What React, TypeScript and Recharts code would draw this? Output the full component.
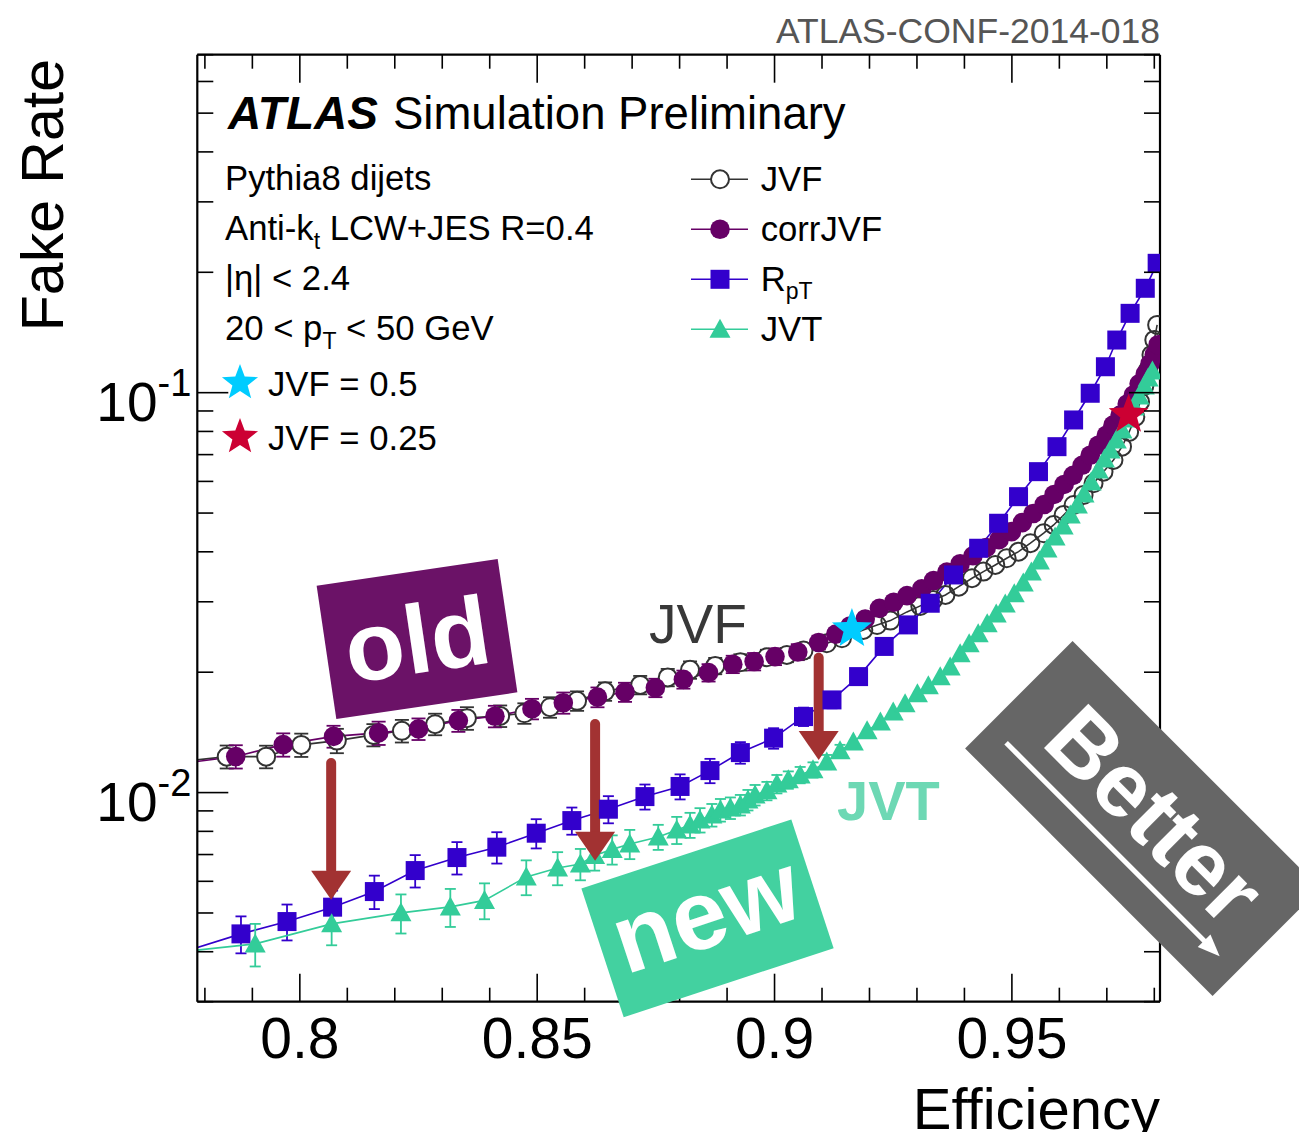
import React from "react";
import { ComposedChart, Line, XAxis, YAxis, ErrorBar, ReferenceLine, ReferenceDot } from "recharts";

const FONT = "'Liberation Sans', Arial, Helvetica, sans-serif";
const W = 1299;
const H = 1124;

// axes
const X_DOMAIN = [0.7784, 0.9812];
const Y_DOMAIN = [0.003, 0.7];
const X_TICKS = [0.78, 0.79, 0.8, 0.81, 0.82, 0.83, 0.84, 0.85, 0.86, 0.87, 0.88, 0.89, 0.9, 0.91, 0.92, 0.93, 0.94, 0.95, 0.96, 0.97, 0.98];
const X_MAJOR = [0.8, 0.85, 0.9, 0.95];
const Y_TICKS = [
  0.003, 0.004, 0.005, 0.006, 0.007, 0.008, 0.009, 0.01, 0.02, 0.03, 0.04, 0.05, 0.06, 0.07, 0.08, 0.09,
  0.1, 0.2, 0.3, 0.4, 0.5, 0.6, 0.7,
];
const Y_MAJOR = [0.01, 0.1];

// JVF (open circles)
const JVF_X = [
  0.7763, 0.7846, 0.7929, 0.8003, 0.8078, 0.8155, 0.8215, 0.8285, 0.8352, 0.8422, 0.8473, 0.8527, 0.8584, 0.8643,
  0.8717, 0.8775, 0.8822, 0.8875, 0.8928, 0.8984, 0.9026, 0.9061, 0.911, 0.9142, 0.9187, 0.9216, 0.9244, 0.9279,
  0.9307, 0.9334, 0.936, 0.9388, 0.9416, 0.944, 0.9465, 0.9489, 0.9514, 0.9539, 0.9567, 0.9588, 0.9609, 0.963,
  0.9651, 0.9672, 0.9693, 0.9714, 0.9732, 0.9747, 0.976, 0.977, 0.9779, 0.9787, 0.9794, 0.98, 0.9806,
];
const JVF_Y = [
  0.012, 0.0123, 0.0123, 0.01316, 0.01349, 0.01394, 0.01427, 0.01483, 0.01535, 0.01555, 0.01579, 0.01635, 0.01696,
  0.01791, 0.01859, 0.01941, 0.02027, 0.02074, 0.02118, 0.0218, 0.02209, 0.02265, 0.02363, 0.02432, 0.02551, 0.02625,
  0.02692, 0.0283, 0.0293, 0.03032, 0.03121, 0.03273, 0.03436, 0.03569, 0.03709, 0.03855, 0.04004, 0.04203, 0.04452,
  0.04669, 0.04946, 0.05239, 0.0555, 0.05936, 0.06346, 0.06788, 0.07328, 0.07976, 0.08695, 0.0948, 0.1039, 0.114,
  0.1243, 0.1355, 0.1477,
];
// relative errors
const JVF_ERR = [
  0, 0.066, 0.065, 0.067, 0.07, 0.064, 0.065, 0.062, 0.065, 0.062, 0.059, 0.059, 0.056, 0.053, 0.053, 0.05, 0.05,
  0.047, 0.047, 0.044, 0.041, 0.041, 0, 0, 0, 0, 0, 0, 0, 0, 0, 0, 0, 0, 0, 0, 0, 0, 0, 0, 0, 0, 0, 0, 0, 0, 0, 0,
  0, 0, 0, 0, 0, 0, 0,
];

// corrJVF (full circles)
const CORR_X = [
  0.7763, 0.7865, 0.7965, 0.8071, 0.8166, 0.825, 0.8334, 0.8411, 0.8489, 0.8555, 0.8627, 0.8685, 0.8749, 0.8808,
  0.8861, 0.8912, 0.8957, 0.9001, 0.9049, 0.9093, 0.9129, 0.9159, 0.9191, 0.9221, 0.9251, 0.9279, 0.931, 0.9335,
  0.9363, 0.9391, 0.9418, 0.9446, 0.9473, 0.9499, 0.9522, 0.9545, 0.9568, 0.9589, 0.961, 0.9629, 0.9648, 0.9665,
  0.9682, 0.9699, 0.9713, 0.9728, 0.9743, 0.9756, 0.9768, 0.9781, 0.9791, 0.98, 0.9808,
];
const CORR_Y = [
  0.01187, 0.01231, 0.01318, 0.01382, 0.0141, 0.01443, 0.01514, 0.01552, 0.0162, 0.01677, 0.01733, 0.01784, 0.01829,
  0.01919, 0.01995, 0.02094, 0.02127, 0.02188, 0.02247, 0.02373, 0.0249, 0.02609, 0.02716, 0.02889, 0.02991, 0.03108,
  0.03231, 0.0339, 0.03558, 0.03734, 0.03909, 0.04097, 0.0429, 0.04493, 0.04733, 0.04986, 0.05253, 0.05566, 0.05896,
  0.06212, 0.06582, 0.06975, 0.07389, 0.07829, 0.08295, 0.0879, 0.09368, 0.09867, 0.1052, 0.1114, 0.1181, 0.1244,
  0.1318,
];
const CORR_ERR = [
  0, 0.067, 0.067, 0.063, 0.067, 0.062, 0.063, 0.062, 0.059, 0.061, 0.057, 0.055, 0.053, 0.052, 0.05, 0.05, 0.05,
  0.048, 0.046, 0.04, 0, 0, 0, 0, 0, 0, 0, 0, 0, 0, 0, 0, 0, 0, 0, 0, 0, 0, 0, 0, 0, 0, 0, 0, 0, 0, 0, 0, 0, 0, 0,
  0, 0,
];

// RpT (squares)
const RPT_X = [
  0.7769, 0.7876, 0.7973, 0.8069, 0.8157, 0.8243, 0.8331, 0.8415, 0.8498, 0.8573, 0.865, 0.8727, 0.8801, 0.8864,
  0.8928, 0.8998, 0.9061, 0.9121, 0.9177, 0.9231, 0.9282, 0.9328, 0.9377, 0.943, 0.9472, 0.9514, 0.9556, 0.9595,
  0.963, 0.9665, 0.9697, 0.9721, 0.9749, 0.9781, 0.9806,
];
const RPT_Y = [
  0.004044, 0.004433, 0.004759, 0.00517, 0.005656, 0.006383, 0.006879, 0.007303, 0.007915, 0.008511, 0.009088,
  0.009772, 0.01036, 0.01135, 0.01259, 0.01368, 0.01549, 0.01705, 0.0195, 0.0232, 0.02626, 0.02975, 0.03501,
  0.04083, 0.04715, 0.05495, 0.06346, 0.07328, 0.08546, 0.09966, 0.1161, 0.1354, 0.1579, 0.1824, 0.2106,
];
const RPT_ERR = [
  0, 0.106, 0.103, 0.1, 0.096, 0.093, 0.093, 0.09, 0.084, 0.078, 0.078, 0.072, 0.072, 0.07, 0.062, 0.059, 0.053,
  0.047, 0.041, 0, 0, 0, 0, 0, 0, 0, 0, 0, 0, 0, 0, 0, 0, 0, 0,
];

// JVT (triangles)
const JVT_X = [
  0.7769, 0.7906, 0.8067, 0.8213, 0.8317, 0.8389, 0.8477, 0.8543, 0.8591, 0.8621, 0.8658, 0.8695, 0.8755, 0.8794,
  0.8822, 0.8843, 0.8868, 0.8886, 0.8907, 0.8928, 0.8944, 0.8959, 0.8984, 0.9005, 0.9029, 0.9054, 0.9081, 0.911,
  0.9138, 0.9166, 0.9195, 0.9223, 0.925, 0.9275, 0.9301, 0.9324, 0.9349, 0.937, 0.9391, 0.941, 0.9429, 0.9448,
  0.9467, 0.9486, 0.9505, 0.9524, 0.9541, 0.9558, 0.9574, 0.9591, 0.9608, 0.9623, 0.9638, 0.9652, 0.9667, 0.9682,
  0.9695, 0.9707, 0.972, 0.9732, 0.9745, 0.9758, 0.9768, 0.9779, 0.9787, 0.9796,
];
const JVT_Y = [
  0.00402, 0.004185, 0.004696, 0.005003, 0.005178, 0.005376, 0.006154, 0.006481, 0.006632, 0.006966, 0.007211,
  0.007442, 0.007748, 0.008066, 0.008302, 0.008544, 0.008794, 0.00905, 0.009156, 0.009316, 0.009588, 0.009867,
  0.0101, 0.01051, 0.01076, 0.01107, 0.0114, 0.01193, 0.01272, 0.01339, 0.01427, 0.01502, 0.01591, 0.01667, 0.01766,
  0.01849, 0.01947, 0.02062, 0.02223, 0.02355, 0.02494, 0.02642, 0.02798, 0.02964, 0.0314, 0.03344, 0.03563,
  0.03796, 0.04068, 0.04359, 0.04643, 0.04946, 0.05239, 0.05582, 0.05981, 0.06409, 0.06827, 0.07191, 0.07617,
  0.08068, 0.08596, 0.09211, 0.09813, 0.1039, 0.1088, 0.1133,
];
const JVT_ERR = [
  0, 0.122, 0.116, 0.112, 0.109, 0.103, 0.1, 0.095, 0.09, 0.084, 0.084, 0.084, 0.072, 0.078, 0.072, 0.07, 0.065,
  0.065, 0.062, 0.059, 0.059, 0.059, 0.053, 0.053, 0.05, 0.047, 0.044, 0.041, 0.035, 0, 0, 0, 0, 0, 0, 0, 0, 0, 0,
  0, 0, 0, 0, 0, 0, 0, 0, 0, 0, 0, 0, 0, 0, 0, 0, 0, 0, 0, 0, 0, 0, 0, 0, 0, 0, 0,
];

// working points (stars) and arrows
const STAR_05 = { x: 0.9163, y: 0.02564 };
const STAR_025 = { x: 0.9746, y: 0.08806 };
const ARROW_X = [0.8066, 0.8622, 0.9093];
const ARROW_TOP = [0.01186, 0.01485, 0.02172];
const ARROW_NECK = [0.006408, 0.007989, 0.01413];
const ARROW_TIP = [0.005393, 0.00675, 0.01207];

const JVF_C = "#333333";
const CORR_C = "#660066";
const RPT_C = "#3300cc";
const JVT_C = "#33cc99";
const ARROW_C = "#a23232";
const AXIS = { stroke: "#000", strokeWidth: 2.2 };
const TXT = 34.7;

const build = (xs: number[], ys: number[], rel: number[]) =>
  xs.map((x, i) => ({ x, y: ys[i], err: rel[i] > 0 ? ys[i] * rel[i] : null }));

const jvfData = build(JVF_X, JVF_Y, JVF_ERR);
const corrData = build(CORR_X, CORR_Y, CORR_ERR);
const rptData = build(RPT_X, RPT_Y, RPT_ERR);
const jvtData = build(JVT_X, JVT_Y, JVT_ERR);

function starPath(cx: number, cy: number, R: number) {
  const r = R * 0.42;
  const pts: string[] = [];
  for (let i = 0; i < 10; i++) {
    const a = -Math.PI / 2 + (i * Math.PI) / 5;
    const rad = i % 2 === 0 ? R : r;
    pts.push(`${(cx + rad * Math.cos(a)).toFixed(2)},${(cy + rad * Math.sin(a)).toFixed(2)}`);
  }
  return `M${pts.join("L")}Z`;
}

// marker shapes, shared by series and legend
const openCircle = (cx: number, cy: number, filled: boolean) => (
  <circle cx={cx} cy={cy} r={9} fill={filled ? "#fff" : "none"} stroke={JVF_C} strokeWidth={2} />
);
const fullCircle = (cx: number, cy: number) => <circle cx={cx} cy={cy} r={9.8} fill={CORR_C} />;
const square = (cx: number, cy: number) => <rect x={cx - 9.5} y={cy - 9.5} width={19} height={19} fill={RPT_C} />;
const triangle = (cx: number, cy: number) => (
  <path d={`M${cx},${cy - 10.5}L${cx + 10.5},${cy + 8.5}L${cx - 10.5},${cy + 8.5}Z`} fill={JVT_C} />
);

const makeDot = (draw: (cx: number, cy: number, p: any) => React.ReactElement) => (props: any) => {
  const { cx, cy, payload, index } = props;
  if (cx == null || cy == null || payload.x < X_DOMAIN[0]) return <g key={`n${index}`} />;
  return <g key={`d${index}`}>{draw(cx, cy, payload)}</g>;
};

const isMajor = (list: number[], v: number) => list.some((m) => Math.abs(m - v) < 1e-9);

function BottomTick(props: any) {
  const { x, y, payload } = props;
  const major = isMajor(X_MAJOR, payload.value);
  return (
    <g>
      <line x1={x} y1={y} x2={x} y2={y - (major ? 28 : 14)} stroke="#000" strokeWidth={1.6} />
      {major && (
        <text x={x} y={y + 56} textAnchor="middle" fontSize={57} fontFamily={FONT} fill="#000">
          {String(payload.value)}
        </text>
      )}
    </g>
  );
}

function TopTick(props: any) {
  const { x, y, payload } = props;
  const major = isMajor(X_MAJOR, payload.value);
  return <line x1={x} y1={y} x2={x} y2={y + (major ? 28 : 14)} stroke="#000" strokeWidth={1.6} />;
}

function LeftTick(props: any) {
  const { x, y, payload } = props;
  const major = isMajor(Y_MAJOR, payload.value);
  const exp = Math.round(Math.log10(payload.value));
  return (
    <g>
      <line x1={x} y1={y} x2={x + (major ? 31 : 16)} y2={y} stroke="#000" strokeWidth={1.6} />
      {major && (
        <text x={x - 101} y={y + 28} fontSize={55} fontFamily={FONT} fill="#000">
          10
          <tspan dy={-25} fontSize={38}>
            {String(exp)}
          </tspan>
        </text>
      )}
    </g>
  );
}

function RightTick(props: any) {
  const { x, y, payload } = props;
  const major = isMajor(Y_MAJOR, payload.value);
  return <line x1={x} y1={y} x2={x - (major ? 31 : 16)} y2={y} stroke="#000" strokeWidth={1.6} />;
}

const arrowHead = (p: any) => (
  <path d={`M${p.cx - 20},${p.cy - 29}L${p.cx + 20},${p.cy - 29}L${p.cx},${p.cy}Z`} fill={ARROW_C} />
);

function Overlay() {
  const legendRows = [
    { y: 171.3, label: "JVF", color: JVF_C, mark: (cx: number, cy: number) => openCircle(cx, cy, true) },
    { y: 221.3, label: "corrJVF", color: CORR_C, mark: fullCircle },
    { y: 271.3, label: "RpT", color: RPT_C, mark: square },
    { y: 321.3, label: "JVT", color: JVT_C, mark: triangle },
  ];
  return (
    <svg
      width={W}
      height={1132}
      style={{ position: "absolute", left: 0, top: 0, pointerEvents: "none" }}
      fontFamily={FONT}
    >
      <text x={1152} y={35} textAnchor="end" fontSize={35.5} fill="#555">
        ATLAS-CONF-2014-018
      </text>
      <text transform="translate(55,51) rotate(-90)" textAnchor="end" fontSize={59} fill="#000">
        Fake Rate
      </text>
      <text x={1152} y={1121} textAnchor="end" fontSize={58} fill="#000">
        Efficiency
      </text>

      <text x={220} y={121} fontSize={46} fontWeight="bold" fontStyle="italic" fill="#000">
        ATLAS
      </text>
      <text x={385} y={121} fontSize={45.5} fill="#000">
        Simulation Preliminary
      </text>

      <g fontSize={TXT} fill="#000">
        <text x={217} y={182}>Pythia8 dijets</text>
        <text x={217} y={232}>
          Anti-k
          <tspan fontSize={23} dy={9}>
            t
          </tspan>
          <tspan dy={-9}> LCW+JES R=0.4</tspan>
        </text>
        <text x={217} y={282}>|η| &lt; 2.4</text>
        <text x={217} y={332}>
          20 &lt; p
          <tspan fontSize={23} dy={9}>
            T
          </tspan>
          <tspan dy={-9}> &lt; 50 GeV</tspan>
        </text>
        <path d={starPath(232, 375, 19)} fill="#00ccff" />
        <text x={260} y={388}>JVF = 0.5</text>
        <path d={starPath(232, 429, 19)} fill="#cc0033" />
        <text x={260} y={442}>JVF = 0.25</text>
      </g>

      {legendRows.map((r) => (
        <g key={r.label}>
          <line x1={683} x2={740} y1={r.y} y2={r.y} stroke={r.color} strokeWidth={1.6} />
          {r.mark(712, r.y)}
          {r.label === "RpT" ? (
            <text x={752.7} y={r.y + 12} fontSize={TXT} fill="#000">
              R
              <tspan fontSize={23} dy={8}>
                pT
              </tspan>
            </text>
          ) : (
            <text x={752.7} y={r.y + 12} fontSize={TXT} fill="#000">
              {r.label}
            </text>
          )}
        </g>
      ))}

      <text x={641} y={635} fontSize={55} fill="#383838">
        JVF
      </text>
      <text x={829} y={812} fontSize={56} fontWeight="bold" fill="#6dd8b4">
        JVT
      </text>

      <g transform="translate(409,631) rotate(-8.4)">
        <rect x={-91.5} y={-67.4} width={183} height={134.8} fill="#6b1267" />
        <text x={0} y={34} textAnchor="middle" fontSize={97} fontWeight="bold" fill="#fff">
          old
        </text>
      </g>
      <g transform="translate(699.5,910.3) rotate(-18.2)">
        <rect x={-110.5} y={-67.7} width={221} height={135.5} fill="#43d1a0" />
        <text x={0} y={28} textAnchor="middle" fontSize={98} fontWeight="bold" fill="#fff">
          new
        </text>
      </g>
      <g transform="translate(1136,809) rotate(45)">
        <rect x={-175} y={-74} width={350} height={152} fill="#666666" />
        <text x={6} y={22} textAnchor="middle" fontSize={91} fontWeight="bold" fill="#fff">
          Better
        </text>
        <line x1={-150} y1={45} x2={135} y2={45} stroke="#fff" strokeWidth={5} />
        <path d="M152,45L130,36L130,54Z" fill="#fff" />
      </g>
    </svg>
  );
}

export default function App() {
  return (
    <div style={{ position: "relative", width: W, height: H }}>
      <ComposedChart width={W} height={H} margin={{ top: 45.7, right: 146, bottom: 50.3, left: 89.3 }}>
        <XAxis
          dataKey="x"
          type="number"
          domain={X_DOMAIN}
          allowDataOverflow
          ticks={X_TICKS}
          interval={0}
          tickLine={false}
          tickSize={0}
          tickMargin={0}
          height={80}
          axisLine={AXIS}
          tick={BottomTick}
        />
        <XAxis
          xAxisId="top"
          orientation="top"
          dataKey="x"
          type="number"
          domain={X_DOMAIN}
          allowDataOverflow
          ticks={X_TICKS}
          interval={0}
          tickLine={false}
          tickSize={0}
          tickMargin={0}
          height={1}
          axisLine={AXIS}
          tick={TopTick}
        />
        <YAxis
          scale="log"
          type="number"
          domain={Y_DOMAIN}
          allowDataOverflow
          ticks={Y_TICKS}
          interval={0}
          tickLine={false}
          tickSize={0}
          tickMargin={0}
          width={100}
          axisLine={AXIS}
          tick={LeftTick}
        />
        <YAxis
          yAxisId="r"
          orientation="right"
          scale="log"
          type="number"
          domain={Y_DOMAIN}
          allowDataOverflow
          ticks={Y_TICKS}
          interval={0}
          tickLine={false}
          tickSize={0}
          tickMargin={0}
          width={1}
          axisLine={AXIS}
          tick={RightTick}
        />

        <Line
          data={jvfData}
          dataKey="y"
          type="linear"
          stroke={JVF_C}
          strokeWidth={1.6}
          dot={makeDot((cx, cy, p) => openCircle(cx, cy, p.err != null))}
          activeDot={false}
          isAnimationActive={false}
        >
          <ErrorBar dataKey="err" direction="y" width={7} stroke={JVF_C} strokeWidth={1.8} isAnimationActive={false} />
        </Line>
        <Line
          data={corrData}
          dataKey="y"
          type="linear"
          stroke={CORR_C}
          strokeWidth={1.6}
          dot={makeDot((cx, cy) => fullCircle(cx, cy))}
          activeDot={false}
          isAnimationActive={false}
        >
          <ErrorBar dataKey="err" direction="y" width={7} stroke={CORR_C} strokeWidth={1.8} isAnimationActive={false} />
        </Line>
        <Line
          data={rptData}
          dataKey="y"
          type="linear"
          stroke={RPT_C}
          strokeWidth={1.6}
          dot={makeDot((cx, cy) => square(cx, cy))}
          activeDot={false}
          isAnimationActive={false}
        >
          <ErrorBar dataKey="err" direction="y" width={5.5} stroke={RPT_C} strokeWidth={1.8} isAnimationActive={false} />
        </Line>
        <Line
          data={jvtData}
          dataKey="y"
          type="linear"
          stroke={JVT_C}
          strokeWidth={1.6}
          dot={makeDot((cx, cy) => triangle(cx, cy))}
          activeDot={false}
          isAnimationActive={false}
        >
          <ErrorBar dataKey="err" direction="y" width={5.5} stroke={JVT_C} strokeWidth={1.8} isAnimationActive={false} />
        </Line>

        {ARROW_X.map((ax, i) => (
          <ReferenceLine
            key={`shaft${i}`}
            segment={[
              { x: ax, y: ARROW_TOP[i] },
              { x: ax, y: ARROW_NECK[i] },
            ]}
            stroke={ARROW_C}
            strokeWidth={10}
            strokeLinecap="round"
          />
        ))}
        {ARROW_X.map((ax, i) => (
          <ReferenceDot key={`head${i}`} x={ax} y={ARROW_TIP[i]} r={20} shape={arrowHead} />
        ))}
        <ReferenceDot
          x={STAR_05.x}
          y={STAR_05.y}
          r={20}
          shape={(p: any) => <path d={starPath(p.cx, p.cy, 21)} fill="#00ccff" />}
        />
        <ReferenceDot
          x={STAR_025.x}
          y={STAR_025.y}
          r={20}
          shape={(p: any) => <path d={starPath(p.cx, p.cy, 21)} fill="#cc0033" />}
        />
      </ComposedChart>
      <Overlay />
    </div>
  );
}
